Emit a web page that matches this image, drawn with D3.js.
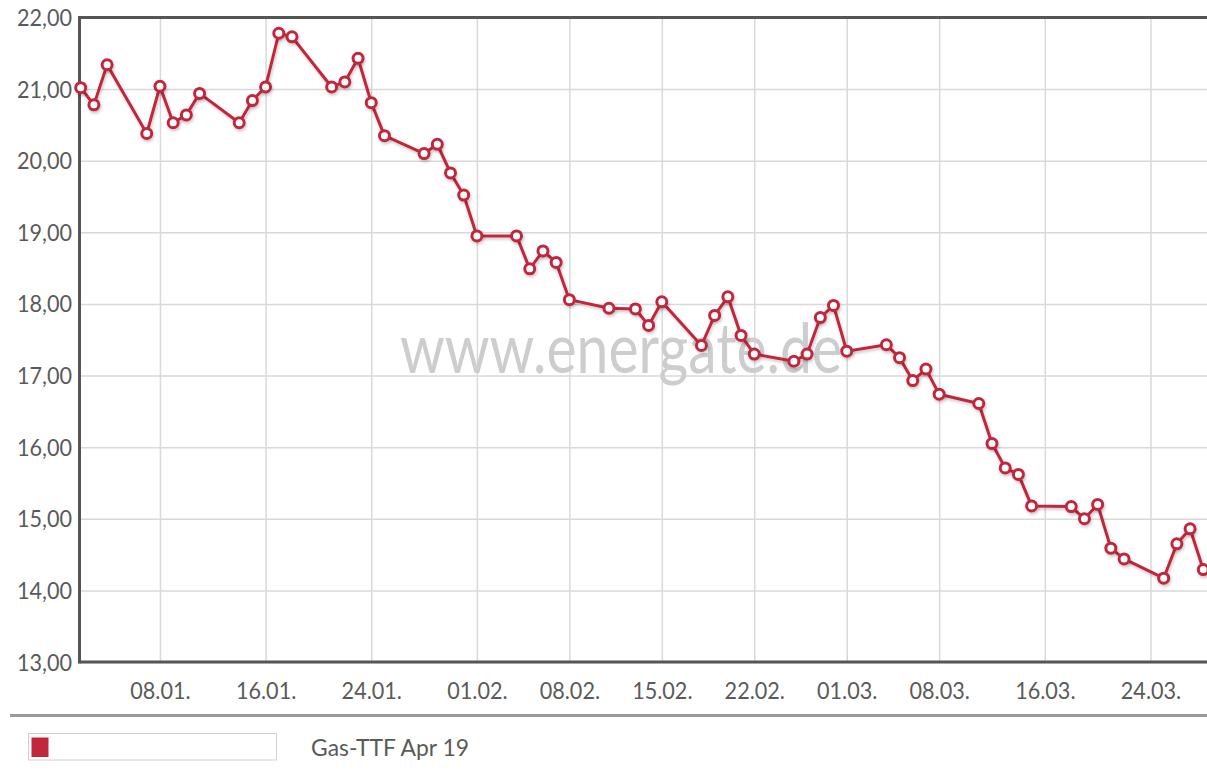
<!DOCTYPE html>
<html>
<head>
<meta charset="utf-8">
<script src="https://cdn.jsdelivr.net/npm/d3@7"></script>
<style>
  html, body { margin: 0; padding: 0; background: #fff; }
  svg { display: block; }
  text { font-family: Lato, "Open Sans", sans-serif; }
</style>
</head>
<body>
<svg id="chart" width="1207" height="774"></svg>
<script>
const dates = ["2019-01-02","2019-01-03","2019-01-04","2019-01-07","2019-01-08","2019-01-09","2019-01-10","2019-01-11",
  "2019-01-14","2019-01-15","2019-01-16","2019-01-17","2019-01-18","2019-01-21","2019-01-22","2019-01-23","2019-01-24",
  "2019-01-25","2019-01-28","2019-01-29","2019-01-30","2019-01-31","2019-02-01","2019-02-04","2019-02-05","2019-02-06",
  "2019-02-07","2019-02-08","2019-02-11","2019-02-13","2019-02-14","2019-02-15","2019-02-18","2019-02-19","2019-02-20",
  "2019-02-21","2019-02-22","2019-02-25","2019-02-26","2019-02-27","2019-02-28","2019-03-01","2019-03-04","2019-03-05",
  "2019-03-06","2019-03-07","2019-03-08","2019-03-11","2019-03-12","2019-03-13","2019-03-14","2019-03-15","2019-03-18",
  "2019-03-19","2019-03-20","2019-03-21","2019-03-22","2019-03-25","2019-03-26","2019-03-27","2019-03-28"];
const values = [21.02,20.78,21.34,20.38,21.04,20.53,20.64,20.94,
  20.53,20.84,21.03,21.78,21.73,21.03,21.10,21.43,20.81,
  20.35,20.10,20.23,19.83,19.52,18.95,18.95,18.49,18.74,
  18.58,18.06,17.94,17.93,17.70,18.03,17.42,17.84,18.10,
  17.56,17.30,17.20,17.30,17.81,17.98,17.34,17.43,17.25,
  16.93,17.09,16.74,16.61,16.05,15.71,15.62,15.18,15.17,
  15.00,15.20,14.59,14.44,14.17,14.65,14.86,14.29];
const xTickDates = ["2019-01-08","2019-01-16","2019-01-24","2019-02-01","2019-02-08","2019-02-15",
  "2019-02-22","2019-03-01","2019-03-08","2019-03-16","2019-03-24"];
const yTickValues = [13,14,15,16,17,18,19,20,21,22];
const seriesName = "Gas-TTF Apr 19";
const watermark = "www.energate.de";

const parse = d3.utcParse("%Y-%m-%d");
const data = dates.map((d, i) => ({ date: parse(d), value: values[i] }));
const xTicks = xTickDates.map(parse);

const svg = d3.select("#chart");
const frameLeft = 79.5, frameRight = 1207, frameTop = 17.5, frameBottom = 662;

const x = d3.scaleUtc().domain([parse(dates[0]), parse(dates[dates.length - 1])]).range([80.7, 1203.3]);
const y = d3.scaleLinear().domain([13, 22]).range([662, 17.5]);

const lineColor = "#c1283d";
const textColor = "#5a5a5a";

// shadow filter
const defs = svg.append("defs");
const f = defs.append("filter").attr("id", "shadow").attr("x", "-5%").attr("y", "-5%").attr("width", "110%").attr("height", "120%");
f.append("feDropShadow").attr("dx", 1).attr("dy", 2).attr("stdDeviation", 1.5).attr("flood-color", "#000").attr("flood-opacity", 0.22);

// grid
svg.append("g")
  .attr("transform", `translate(0,${frameBottom})`)
  .call(d3.axisBottom(x).tickValues(xTicks).tickSize(-(frameBottom - frameTop)).tickFormat(""))
  .call(g => g.select(".domain").remove())
  .call(g => g.selectAll("line").attr("stroke", "#d9d9d9").attr("stroke-width", 1.5));

svg.append("g")
  .attr("transform", `translate(${frameLeft},0)`)
  .call(d3.axisLeft(y).tickValues(yTickValues).tickSize(-(frameRight - frameLeft)).tickFormat(""))
  .call(g => g.select(".domain").remove())
  .call(g => g.selectAll("line").attr("stroke", "#d9d9d9").attr("stroke-width", 1.5));

// watermark
svg.append("text")
  .attr("x", 400).attr("y", 373)
  .attr("textLength", 442).attr("lengthAdjust", "spacingAndGlyphs")
  .attr("font-size", 69)
  .attr("fill", "#cdcdcd")
  .text(watermark);

// frame
const frame = svg.append("g").attr("stroke", "#555").attr("stroke-width", 3).attr("fill", "none");
frame.append("line").attr("x1", frameLeft).attr("x2", frameRight).attr("y1", frameTop).attr("y2", frameTop);
frame.append("line").attr("x1", frameLeft).attr("x2", frameLeft).attr("y1", frameTop - 1.5).attr("y2", frameBottom + 1.5);
frame.append("line").attr("x1", frameLeft).attr("x2", frameRight).attr("y1", frameBottom).attr("y2", frameBottom);

// axes labels
svg.append("g")
  .attr("transform", `translate(0,${frameBottom})`)
  .call(d3.axisBottom(x).tickValues(xTicks).tickSize(0).tickFormat(d3.utcFormat("%d.%m.")))
  .call(g => g.select(".domain").remove())
  .call(g => g.selectAll("text")
    .attr("y", 29).attr("dy", "0.35em")
    .attr("font-family", "Lato, sans-serif").attr("font-size", 23)
    .attr("fill", textColor).attr("transform", "scale(0.94,1)"));

svg.append("g")
  .attr("transform", `translate(${frameLeft},0)`)
  .call(d3.axisLeft(y).tickValues(yTickValues).tickSize(0).tickFormat(d => d3.format(".2f")(d).replace(".", ",")))
  .call(g => g.select(".domain").remove())
  .call(g => g.selectAll("text")
    .attr("x", -8).attr("dy", "0.35em")
    .attr("font-family", "Lato, sans-serif").attr("font-size", 23)
    .attr("fill", textColor).attr("transform", "scale(0.94,1)"));

// line
const line = d3.line().x(d => x(d.date)).y(d => y(d.value));
svg.append("path")
  .datum(data)
  .attr("d", line)
  .attr("fill", "none")
  .attr("stroke", lineColor)
  .attr("stroke-width", 3)
  .attr("stroke-linejoin", "round")
  .attr("filter", "url(#shadow)");

svg.append("g")
  .attr("filter", "url(#shadow)")
  .selectAll("circle")
  .data(data)
  .join("circle")
  .attr("cx", d => x(d.date))
  .attr("cy", d => y(d.value))
  .attr("r", 5)
  .attr("fill", "#fff")
  .attr("stroke", lineColor)
  .attr("stroke-width", 3);

// separator
svg.append("line").attr("x1", 10).attr("x2", 1207).attr("y1", 715.5).attr("y2", 715.5)
  .attr("stroke", "#9a9a9a").attr("stroke-width", 3);

// legend
const legend = svg.append("g");
legend.append("rect").attr("x", 28.5).attr("y", 733.5).attr("width", 248).attr("height", 26.5)
  .attr("fill", "#fff").attr("stroke", "#d0d0d0").attr("stroke-width", 1);
legend.append("rect").attr("x", 31.5).attr("y", 737.5).attr("width", 17).attr("height", 19.5)
  .attr("fill", lineColor);
legend.append("text").attr("x", 311).attr("y", 748).attr("dy", "0.35em")
  .attr("font-size", 23).attr("fill", textColor).attr("textLength", 158).attr("lengthAdjust", "spacingAndGlyphs")
  .text(seriesName);
</script>
</body>
</html>
